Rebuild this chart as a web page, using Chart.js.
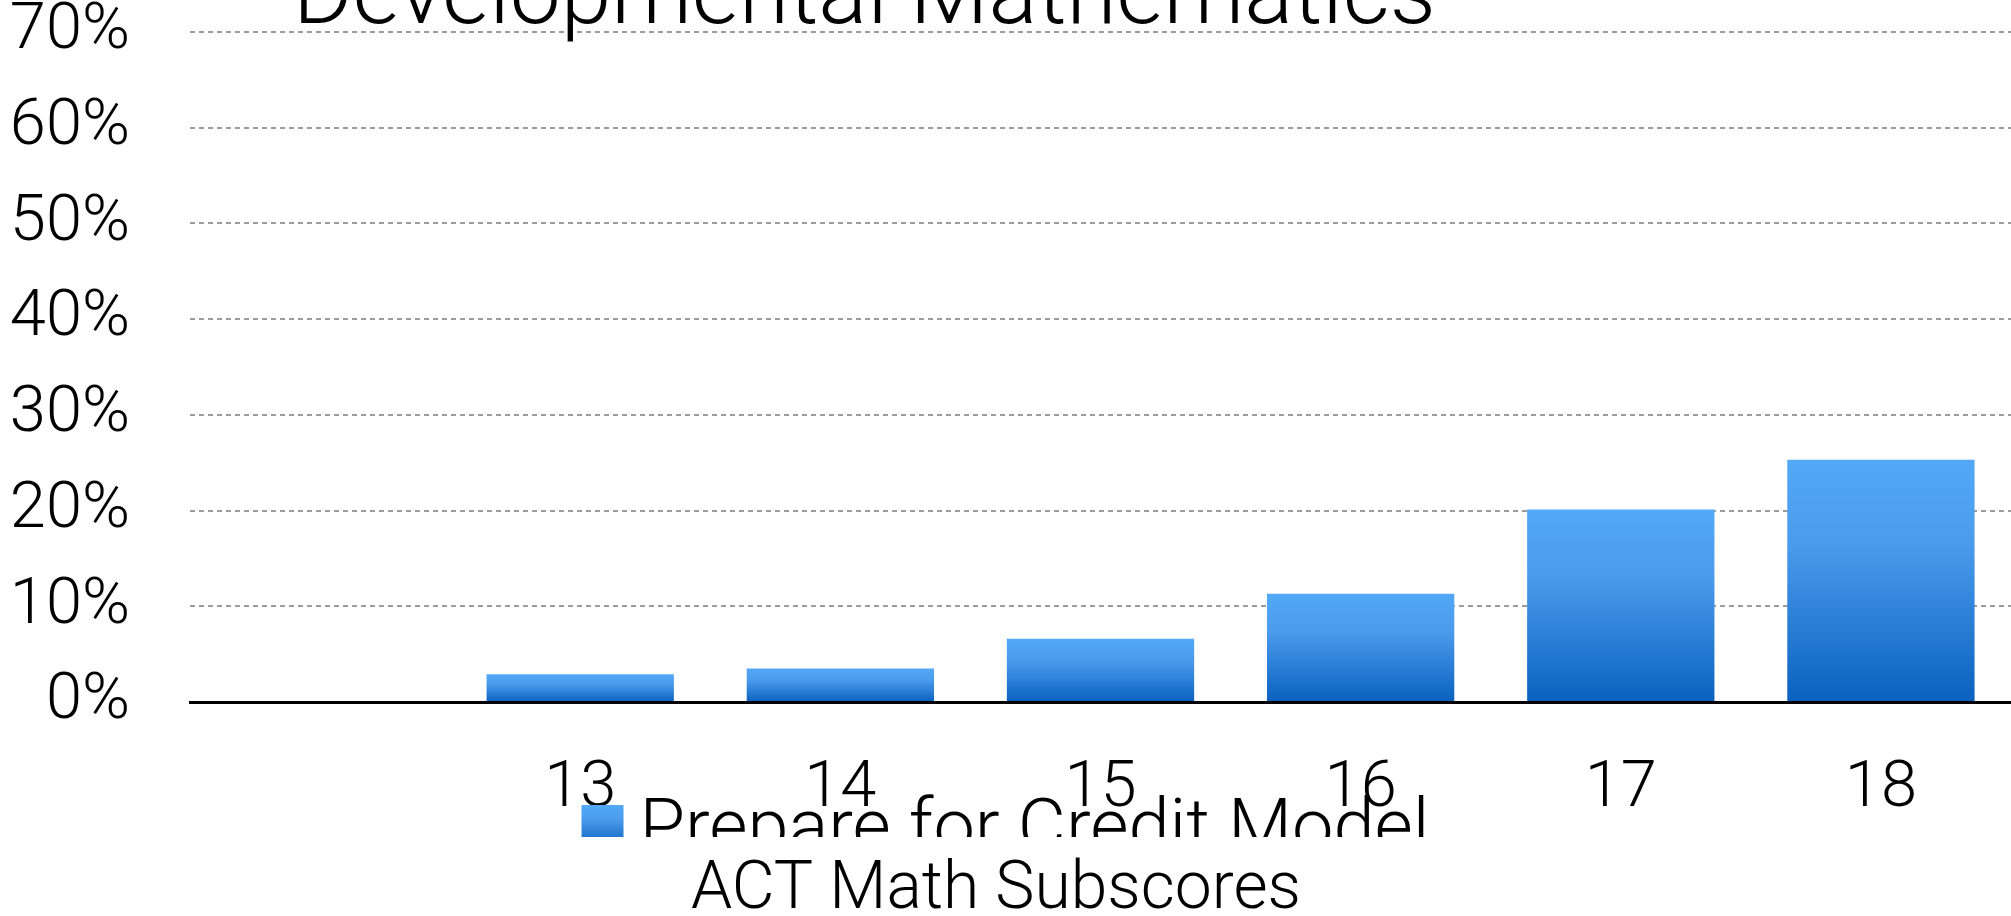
<!DOCTYPE html>
<html>
<head>
<meta charset="utf-8">
<title>Developmental Mathematics</title>
<script src="https://cdn.jsdelivr.net/npm/chart.js@4.4.1/dist/chart.umd.min.js"></script>
<style>
  html, body { margin: 0; padding: 0; background: #fff; }
  #wrap { position: relative; width: 2011px; height: 916px; }
</style>
</head>
<body>
<div id="wrap"><canvas id="actChart"></canvas></div>
<script>
// Data
const categories = ['', '13', '14', '15', '16', '17', '18'];
const prepareForCredit = [null, 2.9, 3.5, 6.6, 11.3, 20.1, 25.3];
const yMax = 70;
const yStep = 10;
const chartTitle = 'Developmental Mathematics';
const seriesName = 'Prepare for Credit Model';
const axisTitle = 'ACT Math Subscores';

const FONT = 'Roboto, "Helvetica Neue", Arial, sans-serif';

// Blue gradient used by the bars and the legend swatch
function blueGradient(c, top, bottom) {
    const g = c.createLinearGradient(0, top, 0, bottom);
    g.addColorStop(0, '#53a8f8');
    g.addColorStop(0.35, '#4a9bec');
    g.addColorStop(1, '#0a61be');
    return g;
}

// Title (cut at the top), legend (cut at the bottom) and axis title
const overlayText = {
    id: 'overlayText',
    afterDraw(chart) {
        const { ctx, width } = chart;
        ctx.save();
        ctx.fillStyle = '#000';
        ctx.textBaseline = 'alphabetic';

        ctx.font = `300 91px ${FONT}`;
        ctx.textAlign = 'left';
        ctx.fillText(chartTitle, 293, 23);

        ctx.font = `300 66px ${FONT}`;
        ctx.textAlign = 'center';
        ctx.fillText(axisTitle, 996, 908);

        ctx.font = `300 74px ${FONT}`;
        const label = chart.data.datasets[0].label;
        const box = 42, gap = 16;
        const total = box + gap + ctx.measureText(label).width;
        const x0 = (width - total) / 2;
        ctx.beginPath();
        ctx.rect(0, 0, width, 837);
        ctx.clip();
        ctx.fillStyle = blueGradient(ctx, 805, 847);
        ctx.fillRect(x0, 805, box, box);
        ctx.fillStyle = '#000';
        ctx.textAlign = 'left';
        ctx.fillText(label, x0 + box + gap, 851);
        ctx.restore();
    }
};

new Chart(document.getElementById('actChart').getContext('2d'), {
    type: 'bar',
    data: {
        labels: categories,
        datasets: [{
            label: seriesName,
            data: prepareForCredit,
            backgroundColor: (c) => {
                const { chart } = c;
                if (!chart.chartArea || c.raw == null) return '#4a9bec';
                const y = chart.scales.y;
                return blueGradient(chart.ctx, y.getPixelForValue(c.raw), y.getPixelForValue(0));
            },
            borderWidth: 0,
            barPercentage: 0.72,
            categoryPercentage: 1
        }]
    },
    options: {
        responsive: true,
        maintainAspectRatio: false,
        animation: false,
        layout: { padding: { top: 32, left: 0, right: 0, bottom: 0 } },
        plugins: {
            legend: { display: false },
            title: { display: false },
            tooltip: { enabled: false }
        },
        scales: {
            x: {
                grid: { display: false, drawTicks: false },
                border: { display: true, color: '#000', width: 3 },
                ticks: {
                    color: '#000',
                    padding: 55,
                    font: { family: FONT, size: 65, weight: 300, lineHeight: 1 }
                },
                afterFit(scale) {
                    scale.height = 214;
                    scale.paddingLeft = 0;
                    scale.paddingRight = 0;
                }
            },
            y: {
                min: 0,
                max: yMax,
                grid: { color: '#9c9c9c', lineWidth: 2, drawTicks: false },
                border: { display: false, dash: [5, 4] },
                ticks: {
                    stepSize: yStep,
                    color: '#000',
                    padding: 60,
                    font: { family: FONT, size: 65, weight: 300, lineHeight: 1 },
                    callback: (v) => v + '%'
                },
                afterFit(scale) {
                    scale.width = 190;
                    scale.paddingTop = 0;
                    scale.paddingBottom = 0;
                }
            }
        }
    },
    plugins: [overlayText]
});
</script>
</body>
</html>
